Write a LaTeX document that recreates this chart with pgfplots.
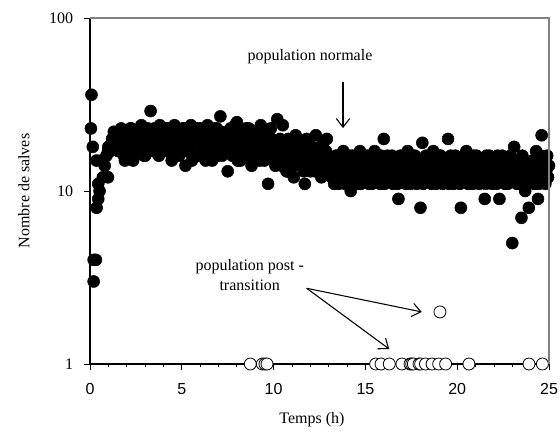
\documentclass[12pt,border=0pt]{standalone}
\usepackage{fontspec}
\setmainfont{Liberation Serif}
\newfontfamily\arial{Liberation Sans}
\usepackage{pgfplots}
\pgfplotsset{compat=1.18}
\usetikzlibrary{arrows.meta}
\begin{document}
\begin{tikzpicture}
\useasboundingbox (-67.5pt,-54.75pt) rectangle (352.5pt,273pt);
\begin{axis}[
  scale only axis, width=344.25pt, height=259.5pt,
  xmin=0, xmax=25, ymin=1, ymax=100,
  ymode=log, log basis y=10,
  log ticks with fixed point,
  /pgf/number format/assume math mode=true,
  axis lines*=left, axis line style={-, black, line width=0.8pt},
  xtick={0,5,...,25}, minor x tick num=4,
  ytick={1,10,100},
  tick align=outside, tick style={black, line width=0.6pt},
  major tick length=4.5pt, minor tick length=2.5pt,
  xticklabel style={font=\arial, yshift=-6pt},
  yticklabel style={xshift=-4pt},
  clip=false,
]
% population normale
\addplot[only marks, mark=*, mark size=4.5pt, mark options={fill=black, draw=black}] coordinates {
(0.08,36) (0.05,23) (0.15,18) (0.2,4) (0.32,4) (0.2,3) (0.35,15) (0.45,11) (0.52,10) (0.45,9) (0.36,8) (0.62,15) (0.98,12) (0.98,17)
(0.7,12) (0.8,14) (0.9,16) (1.0,18) (1.1,17) (1.2,20) (1.3,22) (1.4,19) (1.5,21)
(1.6,20) (1.7,23) (1.8,18) (1.9,15) (2.0,21) (2.1,19) (2.2,23) (2.3,17) (2.4,20) (2.5,22)
(2.6,18) (2.7,21) (2.8,24) (2.9,19) (3.0,16) (3.1,22) (3.2,20) (3.3,29) (3.4,18) (3.5,23)
(3.6,21) (3.7,19) (3.8,24) (3.9,17) (4.0,22) (4.1,20) (4.2,18) (4.3,23) (4.4,21) (4.5,16)
(4.6,24) (4.7,19) (4.8,22) (4.9,17) (5.0,20) (5.1,23) (5.2,14) (5.3,21) (5.4,18) (5.5,24)
(5.6,19) (5.7,22) (5.8,16) (5.9,20) (6.0,23) (6.1,18) (6.2,21) (6.3,15) (6.4,24) (6.5,19)
(6.6,22) (6.7,17) (6.8,20) (6.9,23) (7.0,18) (7.1,27) (7.2,16) (7.3,21) (7.4,19) (7.5,13)
(7.6,22) (7.7,17) (7.8,20) (7.9,24) (8.0,25) (8.1,18) (8.2,15) (8.3,21) (8.4,19) (8.5,23)
(8.6,16) (8.7,20) (8.8,14) (8.9,22) (9.0,18) (9.1,21) (9.2,17) (9.3,24) (9.4,19) (9.5,15)
(9.6,22) (9.7,11) (9.8,18) (9.9,20) (10.0,16)
(10.1,14) (10.2,26) (10.3,19) (10.4,15) (10.5,24) (10.6,17) (10.7,13) (10.8,20) (10.9,16) (11.0,18)
(11.1,12) (11.2,21) (11.3,15) (11.4,19) (11.5,14) (11.6,17) (11.7,11) (11.8,20) (11.9,16) (12.0,13)
(12.1,18) (12.2,15) (12.3,21) (12.4,14) (12.5,17) (12.6,12) (12.7,19) (12.8,16) (12.9,20) (13.0,13)
(13.1,15) (13.2,12) (13.3,11) (13.4,16) (13.5,13) (13.6,14) (13.7,12) (13.8,17) (13.9,11) (14.0,15)
(14.1,13) (14.2,10) (14.3,16) (14.4,12) (14.5,14) (14.6,11) (14.7,17) (14.8,13) (14.9,15) (15.0,12)
(15.1,16) (15.2,11) (15.3,14) (15.4,13) (15.5,17) (15.6,12) (15.7,15) (15.8,11) (15.9,14) (16.0,20)
(16.1,13) (16.2,16) (16.3,12) (16.4,15) (16.5,11) (16.6,14) (16.7,13) (16.8,9) (16.9,16) (17.0,12)
(17.1,15) (17.2,11) (17.3,17) (17.4,13) (17.5,14) (17.6,12) (17.7,16) (17.8,11) (17.9,15) (18.0,8)
(18.1,19) (18.2,13) (18.3,16) (18.4,12) (18.5,14) (18.6,11) (18.7,17) (18.8,13) (18.9,15) (19.0,12)
(19.1,16) (19.2,11) (19.3,14) (19.4,13) (19.5,20) (19.6,12) (19.7,15) (19.8,11) (19.9,16) (20.0,13)
(20.1,14) (20.2,8) (20.3,12) (20.4,15) (20.5,17) (20.6,11) (20.7,14) (20.8,13) (20.9,16) (21.0,12)
(21.1,15) (21.2,11) (21.3,14) (21.4,13) (21.5,9) (21.6,16) (21.7,12) (21.8,15) (21.9,11) (22.0,14)
(22.1,13) (22.2,16) (22.3,9) (22.4,12) (22.5,15) (22.6,11) (22.7,14) (22.8,13) (22.9,16) (23.0,5)
(23.1,18) (23.2,12) (23.3,15) (23.4,11) (23.5,7) (23.6,14) (23.7,10) (23.8,13) (23.9,8) (24.0,12)
(24.1,15) (24.2,11) (24.3,17) (24.4,9) (24.5,14) (24.6,21) (24.7,13) (24.8,11) (24.9,16) (25.0,14)
(1.55,17) (1.65,21) (1.75,19) (1.85,16) (1.95,22) (2.05,18) (2.15,20) (2.25,23) (2.35,15) (2.45,19)
(2.55,21) (2.65,17) (2.75,22) (2.85,20) (2.95,16) (3.05,18) (3.15,23) (3.25,19) (3.35,21) (3.45,17)
(3.55,20) (3.65,22) (3.75,16) (3.85,18) (3.95,21) (4.05,19) (4.15,23) (4.25,17) (4.35,20) (4.45,15)
(4.55,22) (4.65,18) (4.75,21) (4.85,16) (4.95,19) (5.05,23) (5.15,20) (5.25,17) (5.35,22) (5.45,18)
(5.55,15) (5.65,21) (5.75,19) (5.85,23) (5.95,16) (6.05,20) (6.15,18) (6.25,22) (6.35,17) (6.45,21)
(6.55,19) (6.65,15) (6.75,23) (6.85,20) (6.95,16) (7.05,18) (7.15,22) (7.25,19) (7.35,21) (7.45,17)
(7.55,20) (7.65,23) (7.75,16) (7.85,18) (7.95,21) (8.05,15) (8.15,19) (8.25,22) (8.35,17) (8.45,20)
(8.55,18) (8.65,23) (8.75,16) (8.85,21) (8.95,19) (9.05,17) (9.15,22) (9.25,15) (9.35,20) (9.45,18)
(9.55,21) (9.65,16) (9.75,19) (9.85,23) (9.95,17)
(10.05,18) (10.15,15) (10.25,17) (10.35,20) (10.45,14) (10.55,16) (10.65,19) (10.75,13) (10.85,17) (10.95,15)
(11.05,18) (11.15,14) (11.25,16) (11.35,19) (11.45,15) (11.55,17) (11.65,13) (11.75,16) (11.85,18) (11.95,14)
(12.05,15) (12.15,17) (12.25,13) (12.35,16) (12.45,14) (12.55,18) (12.65,15) (12.75,13) (12.85,17) (12.95,14)
(13.05,14) (13.15,12) (13.25,15) (13.35,13) (13.45,16) (13.55,11) (13.65,13) (13.75,15) (13.85,12) (13.95,14)
(14.05,11) (14.15,16) (14.25,13) (14.35,15) (14.45,12) (14.55,14) (14.65,16) (14.75,11) (14.85,13) (14.95,15)
(15.05,14) (15.15,12) (15.25,16) (15.35,11) (15.45,13) (15.55,15) (15.65,14) (15.75,12) (15.85,16) (15.95,13)
(16.05,11) (16.15,15) (16.25,14) (16.35,12) (16.45,16) (16.55,13) (16.65,15) (16.75,11) (16.85,14) (16.95,13)
(17.05,16) (17.15,12) (17.25,14) (17.35,15) (17.45,11) (17.55,16) (17.65,13) (17.75,14) (17.85,12) (17.95,15)
(18.05,13) (18.15,11) (18.25,15) (18.35,14) (18.45,16) (18.55,12) (18.65,13) (18.75,15) (18.85,11) (18.95,14)
(19.05,16) (19.15,13) (19.25,12) (19.35,15) (19.45,14) (19.55,11) (19.65,16) (19.75,13) (19.85,14) (19.95,12)
(20.05,15) (20.15,11) (20.25,14) (20.35,16) (20.45,13) (20.55,12) (20.65,15) (20.75,14) (20.85,11) (20.95,13)
(21.05,16) (21.15,14) (21.25,12) (21.35,15) (21.45,13) (21.55,11) (21.65,14) (21.75,16) (21.85,13) (21.95,12)
(22.05,15) (22.15,11) (22.25,14) (22.35,13) (22.45,16) (22.55,12) (22.65,15) (22.75,11) (22.85,14) (22.95,13)
(23.05,15) (23.15,13) (23.25,11) (23.35,14) (23.45,12) (23.55,16) (23.65,12) (23.75,14) (23.85,11) (23.95,13)
(24.05,14) (24.15,12) (24.25,15) (24.35,13) (24.45,11) (24.55,16) (24.65,12) (24.75,15) (24.85,13) (24.95,12)
};
% population post-transition
\addplot[only marks, mark=*, mark size=4.5pt, mark options={fill=white, draw=black, line width=0.6pt}] coordinates {
(8.73,1) (9.39,1) (9.53,1) (9.64,1) (15.56,1) (15.85,1) (16.30,1) (16.99,1) (17.43,1) (17.52,1)
(17.61,1) (17.92,1) (18.01,1) (18.27,1) (18.63,1) (18.99,1) (19.37,1) (20.64,1) (23.91,1) (24.64,1)
(19.06,2)
};
\node at (axis cs:11.98,59.5) {population normale};
\draw[-{Straight Barb[length=6.5pt,width=10pt]}, line width=0.8pt] (axis cs:13.78,42.7) -- (axis cs:13.78,23.1);
\node[align=center] at (axis cs:8.7,3.27) {population post -\\transition};
\draw[-{Straight Barb[length=6.5pt,width=10pt]}, line width=0.8pt] (axis cs:11.8,2.74) -- (axis cs:18.07,2.0);
\draw[-{Straight Barb[length=6.5pt,width=10pt]}, line width=0.8pt] (axis cs:11.8,2.74) -- (axis cs:16.3,1.22);
\end{axis}
\draw[gray, line width=1pt] (0,259.5pt) -- (344.25pt,259.5pt) -- (344.25pt,0);
\node[rotate=90] at (-49.5pt,129.75pt) {Nombre de salves};
\node at (166.5pt,-42pt) {Temps (h)};
\end{tikzpicture}
\end{document}
